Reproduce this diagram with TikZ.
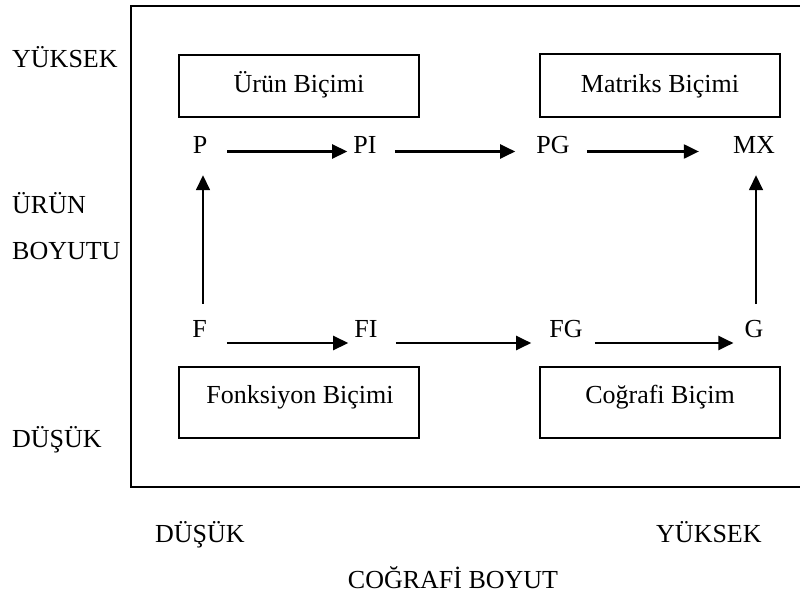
\documentclass[tikz,border=0pt]{standalone}
\usepackage{fontspec}
\setmainfont{Liberation Serif}
\usetikzlibrary{arrows.meta}
\tikzset{
  lbl/.style={inner sep=0pt, anchor=base, font=\fontsize{26}{31}\selectfont},
  lblw/.style={inner sep=0pt, anchor=base west, font=\fontsize{26}{31}\selectfont},
  boxed/.style={draw, line width=1.6pt, minimum width=240pt, inner sep=0pt},
  arr/.style={line width=2.2pt, -{Triangle[length=15pt,width=14pt]}},
  varr/.style={line width=1.6pt, -{Triangle[length=15pt,width=14pt]}},
  frame/.style={line width=2pt}
}
\begin{document}
\begin{tikzpicture}[x=1pt,y=-1pt]
\useasboundingbox (0,0) rectangle (800,597);
% frame (right side lies beyond the picture edge)
\coordinate (ftr) at (802,6);
\coordinate (fbr) at (802,487);
\coordinate (ftl) at (131,6);
\coordinate (fbl) at (131,487);
\draw[frame] (ftr) -- (ftl) -- (fbl) -- (fbr);

% boxes
\node[boxed, minimum height=62pt] (ub) at (299,86) {};
\node[boxed, minimum height=63pt] (mb) at (660,85.5) {};
\node[boxed, minimum height=71pt] (fb) at (299,402.5) {};
\node[boxed, minimum height=71pt] (cb) at (660,402.5) {};
\node[lbl] (ubt) at (299,92) {Ürün Biçimi};
\node[lbl] (mbt) at (660,92) {Matriks Biçimi};
\node[lbl] (fbt) at (300,403) {Fonksiyon Biçimi};
\node[lbl] (cbt) at (660,403) {Coğrafi Biçim};

% top row
\node[lbl] (P) at (200,153) {P};
\node[lbl] (PI) at (365,153) {PI};
\node[lbl] (PG) at (553,153) {PG};
\node[lbl] (MX) at (754,153) {MX};
% bottom row
\node[lbl] (F) at (199.5,337) {F};
\node[lbl] (FI) at (366,337) {FI};
\node[lbl] (FG) at (566,337) {FG};
\node[lbl] (G) at (754,337) {G};

% horizontal arrows
\draw[arr] ([xshift=20pt,yshift=1.5pt]P.base east) -- ([xshift=-6pt,yshift=1.5pt]PI.base west);
\draw[arr] ([xshift=18pt,yshift=1.5pt]PI.base east) -- ([xshift=-21pt,yshift=1.5pt]PG.base west);
\draw[arr] ([xshift=17pt,yshift=1.5pt]PG.base east) -- ([xshift=-34pt,yshift=1.5pt]MX.base west);
\draw[arr] ([xshift=20pt,yshift=-6pt]F.base east) -- ([xshift=-6pt,yshift=-6pt]FI.base west);
\draw[arr] ([xshift=18pt,yshift=-6pt]FI.base east) -- ([xshift=-18pt,yshift=-6pt]FG.base west);
\draw[arr] ([xshift=12pt,yshift=-6pt]FG.base east) -- ([xshift=-11pt,yshift=-6pt]G.base west);
% vertical arrows
\draw[varr] ([xshift=3.5pt,yshift=16pt]F.north) -- ([xshift=3pt,yshift=-22pt]P.south);
\draw[varr] ([xshift=2pt,yshift=15.5pt]G.north) -- ([xshift=2pt,yshift=-22pt]MX.south);

% axis labels
\node[lblw] (yl) at (12,67) {YÜKSEK};
\node[lblw] (ul) at (12,213) {ÜRÜN};
\node[lblw] (bl) at (12,259) {BOYUTU};
\node[lblw] (dl) at (12,447) {DÜŞÜK};
\node[lblw] (dx) at (155,542) {DÜŞÜK};
\node[lblw] (yx) at (656,542) {YÜKSEK};
\node[lbl] (cx) at (453,588) {COĞRAFİ BOYUT};
\end{tikzpicture}
\end{document}
